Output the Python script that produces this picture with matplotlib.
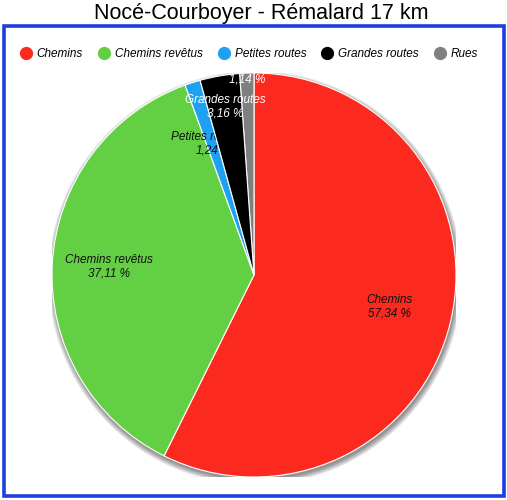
import matplotlib.pyplot as plt
import matplotlib.patches as mpatches
from matplotlib.lines import Line2D
import numpy as np

plt.rcParams['font.family'] = ['Liberation Sans', 'DejaVu Sans']

title = "Nocé-Courboyer - Rémalard 17 km"
categories = ["Chemins", "Chemins revêtus", "Petites routes", "Grandes routes", "Rues"]
values = [57.34, 37.11, 1.24, 3.16, 1.14]
value_labels = ["57,34 %", "37,11 %", "1,24", "3,16 %", "1,14 %"]

colors = ['#fb291e', '#63d043', '#1ea1f0', '#000000', '#7f7f7f']
label_colors = ['#111111', '#111111', '#111111', 'white', 'white']
label_radius = [0.69, 0.72, 0.69, 0.845, 1.0]
label_shift = [0, 0, 2.0, 0, 0]  # degrees, nudges crowded labels

fig = plt.figure(figsize=(5.07, 5.0), dpi=100)

# blue frame
fig.patches.append(mpatches.Rectangle((3.5 / 507, 4.5 / 500), 500 / 507, 470 / 500,
                                      transform=fig.transFigure, fill=False,
                                      edgecolor='#1e3ee0', linewidth=2.6))

fig.text(261 / 507, 1 - 14 / 500, title, ha='center', va='center', fontsize=15.5)

# pie
ax = fig.add_axes([52 / 507, 23 / 500, 404 / 507, 404 / 500])

# soft drop shadow under the pie
for k in range(5):
    ax.add_patch(mpatches.Circle((0.006, -0.014), 1.0 + 0.006 * k, facecolor='black',
                                 edgecolor='none', alpha=0.10, zorder=0.5))

wedges, _ = ax.pie(values, colors=colors, startangle=90, counterclock=False,
                   wedgeprops=dict(edgecolor='white', linewidth=0.8))
for w in wedges:
    w.set_zorder(1)
ax.set_xlim(-1.0, 1.0)
ax.set_ylim(-1.0, 1.0)
ax.set_aspect('equal')
ax.axis('off')

labels = []
for w, cat, vl, lc, r, s in zip(wedges, categories, value_labels, label_colors,
                                label_radius, label_shift):
    mid = np.deg2rad((w.theta1 + w.theta2) / 2 + s)
    t = ax.text(r * np.cos(mid), r * np.sin(mid), cat + "\n" + vl, ha='center', va='center',
                fontsize=8.5, style='italic', color=lc, linespacing=1.15, zorder=1.5)
    labels.append(t)

# black wedge drawn over the "Petites routes" label, as in the reference
wedges[3].set_zorder(1.6)
labels[3].set_zorder(1.7)
labels[4].set_zorder(1.7)

handles = [Line2D([], [], marker='o', linestyle='none', markersize=8.5,
                  markerfacecolor=c, markeredgecolor=c) for c in colors]
fig.legend(handles, categories, loc='center', bbox_to_anchor=(0.49, 1 - 54 / 500),
           ncol=5, frameon=False, prop=dict(size=8.5, style='italic'),
           handletextpad=0.3, columnspacing=1.2, handlelength=1.2)

fig.savefig('out.png', dpi=100)
